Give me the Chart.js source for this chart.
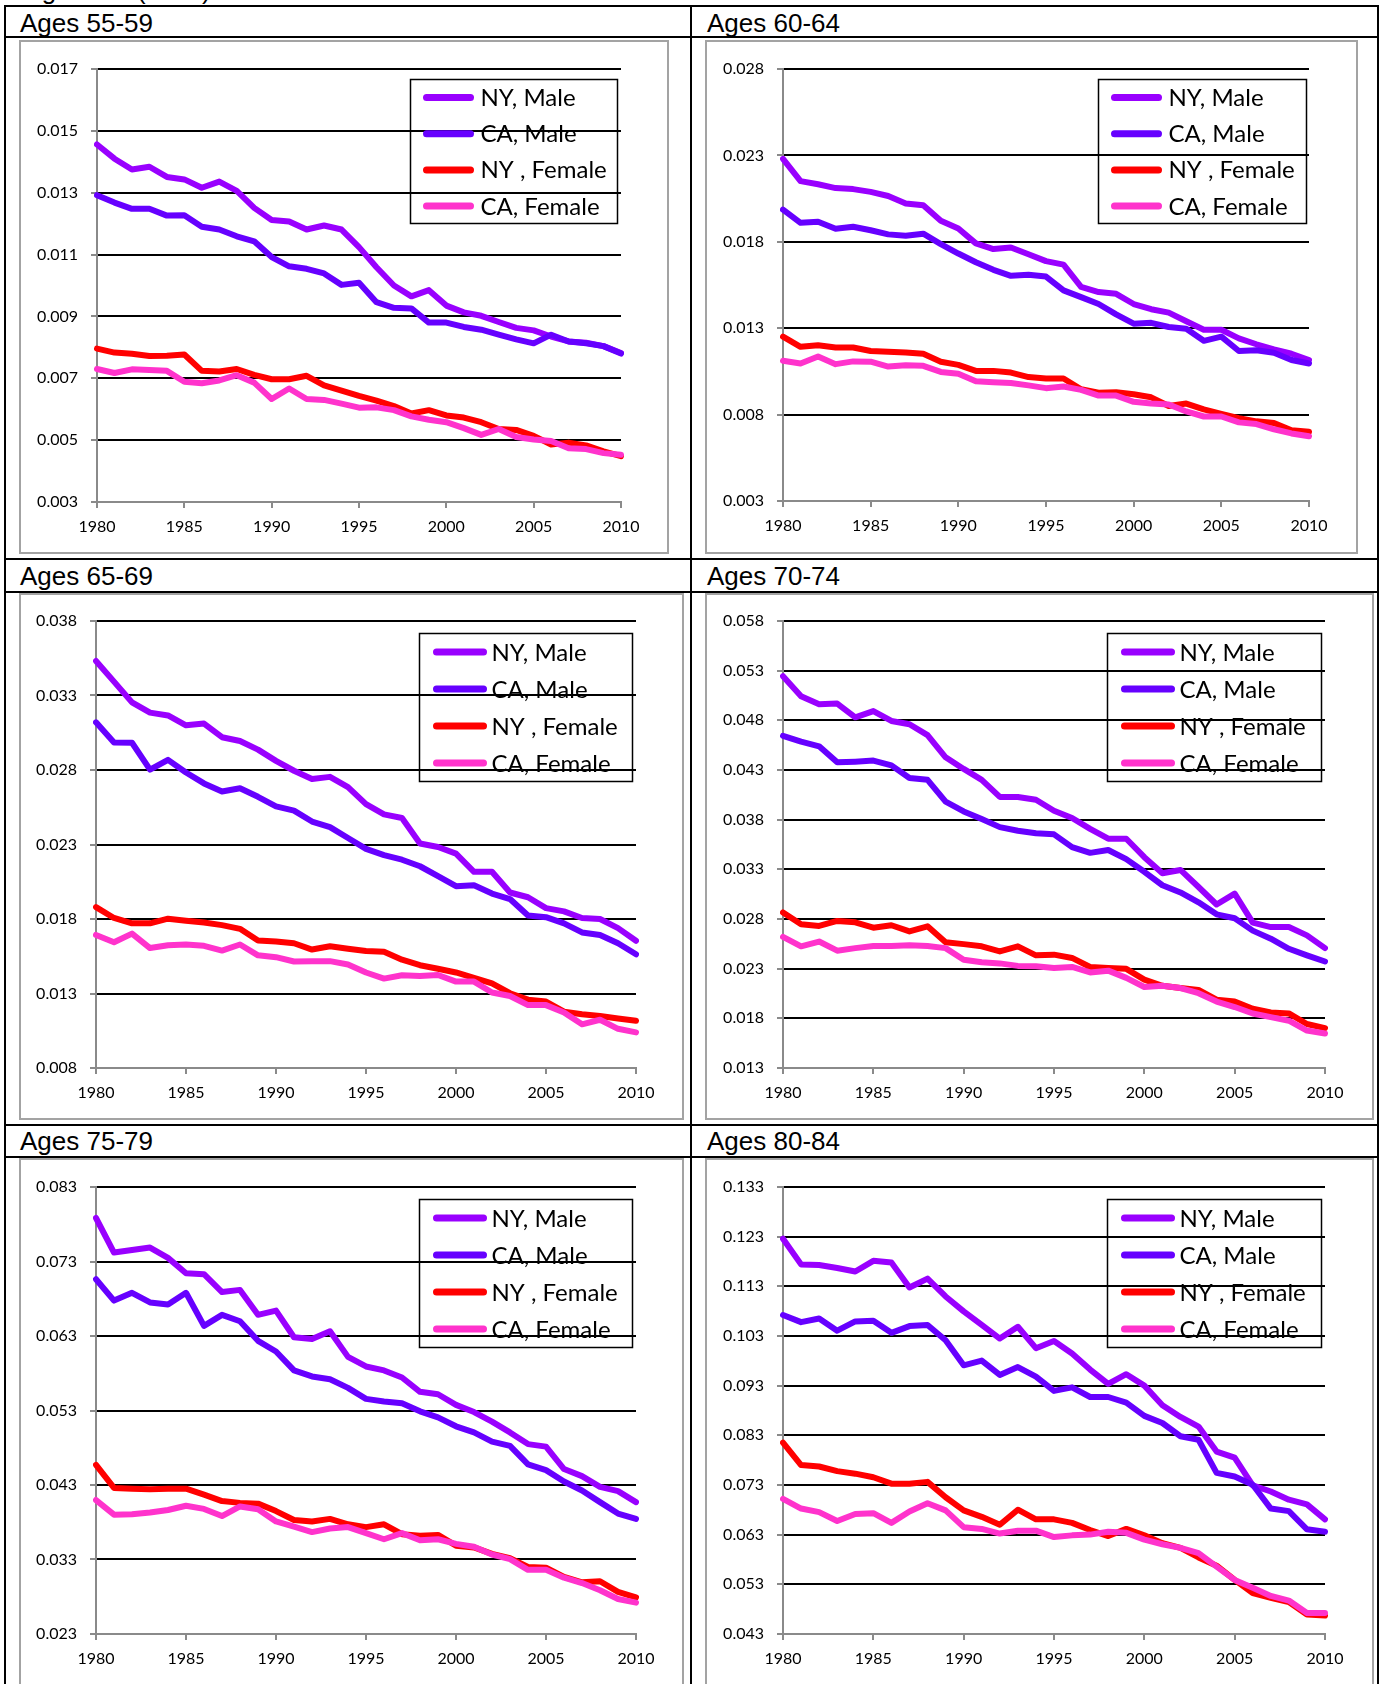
<!DOCTYPE html>
<html>
<head>
<meta charset="utf-8">
<title>Mortality rates by age group, NY and CA, 1980-2010</title>
<script src="https://cdn.jsdelivr.net/npm/chart.js@4.4.0/dist/chart.umd.min.js"></script>
<style>
  html, body { margin: 0; padding: 0; background: #fff; width: 1381px; height: 1684px; overflow: hidden; }
  .rule { position: absolute; background: #000; }
  .title { position: absolute; font-family: "Liberation Sans", Arial, sans-serif; font-size: 26px; line-height: 26px; color: #000; white-space: nowrap; }
  .frame { position: absolute; box-sizing: border-box; border: 2px solid #a3a3a3; pointer-events: none; }
  canvas { position: absolute; }
</style>
</head>
<body>
<script>
// ---- data -------------------------------------------------------------
const YEARS = [1980,1981,1982,1983,1984,1985,1986,1987,1988,1989,1990,1991,1992,1993,1994,1995,
               1996,1997,1998,1999,2000,2001,2002,2003,2004,2005,2006,2007,2008,2009,2010];
const X_TICK_YEARS = [1980,1985,1990,1995,2000,2005,2010];
const SERIES_NAMES = ['NY, Male', 'CA, Male', 'NY , Female', 'CA, Female'];
const PAGE_HEADING = 'Figure 10 (cont.)';

// Ages 55-59
const Y_TICKS_55_59 = [0.003,0.005,0.007,0.009,0.011,0.013,0.015,0.017];
const NY_MALE_55_59 = [0.01456,0.01410,0.01375,0.01384,0.01351,0.01343,0.01316,0.01336,0.01306,0.01251,0.01212,0.01207,0.01181,0.01194,0.01181,0.01124,0.01059,0.01000,0.00965,0.00985,0.00935,0.00913,0.00902,0.00882,0.00863,0.00855,0.00835,0.00819,0.00815,0.00804,0.00782];
const CA_MALE_55_59 = [0.01292,0.01268,0.01248,0.01248,0.01226,0.01227,0.01190,0.01181,0.01159,0.01143,0.01092,0.01062,0.01054,0.01039,0.01002,0.01009,0.00946,0.00928,0.00926,0.00880,0.00880,0.00866,0.00857,0.00841,0.00826,0.00813,0.00841,0.00819,0.00813,0.00804,0.00780];
const NY_FEMALE_55_59 = [0.00796,0.00783,0.00779,0.00772,0.00773,0.00777,0.00724,0.00722,0.00730,0.00711,0.00697,0.00697,0.00708,0.00677,0.00660,0.00643,0.00628,0.00610,0.00586,0.00597,0.00580,0.00573,0.00558,0.00536,0.00533,0.00514,0.00486,0.00492,0.00483,0.00464,0.00448];
const CA_FEMALE_55_59 = [0.00730,0.00717,0.00729,0.00727,0.00724,0.00689,0.00684,0.00693,0.00710,0.00686,0.00633,0.00667,0.00633,0.00630,0.00618,0.00605,0.00606,0.00597,0.00577,0.00566,0.00558,0.00539,0.00517,0.00536,0.00510,0.00502,0.00497,0.00474,0.00471,0.00458,0.00453];

// Ages 60-64
const Y_TICKS_60_64 = [0.003,0.008,0.013,0.018,0.023,0.028];
const NY_MALE_60_64 = [0.02280,0.02151,0.02133,0.02111,0.02105,0.02089,0.02065,0.02022,0.02012,0.01922,0.01877,0.01791,0.01758,0.01767,0.01728,0.01688,0.01668,0.01539,0.01509,0.01499,0.01440,0.01410,0.01390,0.01340,0.01291,0.01291,0.01241,0.01207,0.01178,0.01152,0.01116];
const CA_MALE_60_64 = [0.01986,0.01910,0.01916,0.01875,0.01887,0.01867,0.01843,0.01835,0.01847,0.01787,0.01732,0.01682,0.01638,0.01603,0.01609,0.01599,0.01519,0.01480,0.01440,0.01380,0.01326,0.01331,0.01307,0.01297,0.01227,0.01251,0.01168,0.01172,0.01158,0.01116,0.01096];
const NY_FEMALE_60_64 = [0.01251,0.01192,0.01201,0.01188,0.01188,0.01168,0.01164,0.01160,0.01152,0.01106,0.01088,0.01053,0.01053,0.01043,0.01017,0.01009,0.01009,0.00947,0.00927,0.00929,0.00918,0.00900,0.00850,0.00864,0.00830,0.00804,0.00779,0.00761,0.00751,0.00709,0.00701];
const CA_FEMALE_60_64 = [0.01112,0.01096,0.01136,0.01092,0.01108,0.01106,0.01078,0.01086,0.01082,0.01047,0.01037,0.00993,0.00987,0.00983,0.00969,0.00953,0.00963,0.00943,0.00910,0.00910,0.00874,0.00864,0.00858,0.00818,0.00789,0.00789,0.00755,0.00745,0.00715,0.00691,0.00675];

// Ages 65-69
const Y_TICKS_65_69 = [0.008,0.013,0.018,0.023,0.028,0.033,0.038];
const NY_MALE_65_69 = [0.03532,0.03393,0.03254,0.03185,0.03166,0.03100,0.03112,0.03020,0.02995,0.02937,0.02861,0.02795,0.02739,0.02754,0.02685,0.02571,0.02502,0.02478,0.02307,0.02283,0.02239,0.02117,0.02117,0.01978,0.01946,0.01873,0.01851,0.01807,0.01800,0.01739,0.01654];
const CA_MALE_65_69 = [0.03120,0.02985,0.02983,0.02802,0.02868,0.02783,0.02710,0.02656,0.02678,0.02620,0.02556,0.02527,0.02454,0.02417,0.02344,0.02271,0.02229,0.02198,0.02154,0.02088,0.02020,0.02027,0.01971,0.01934,0.01824,0.01812,0.01771,0.01710,0.01693,0.01637,0.01563];
const NY_FEMALE_65_69 = [0.01880,0.01807,0.01771,0.01771,0.01802,0.01788,0.01776,0.01759,0.01734,0.01656,0.01649,0.01637,0.01595,0.01617,0.01600,0.01585,0.01580,0.01527,0.01490,0.01466,0.01441,0.01405,0.01368,0.01302,0.01259,0.01246,0.01178,0.01161,0.01149,0.01132,0.01117];
const CA_FEMALE_65_69 = [0.01693,0.01644,0.01702,0.01605,0.01624,0.01629,0.01620,0.01588,0.01629,0.01556,0.01544,0.01515,0.01517,0.01517,0.01495,0.01441,0.01400,0.01422,0.01417,0.01424,0.01380,0.01380,0.01307,0.01283,0.01222,0.01222,0.01173,0.01093,0.01124,0.01063,0.01039];

// Ages 70-74
const Y_TICKS_70_74 = [0.013,0.018,0.023,0.028,0.033,0.038,0.043,0.048,0.053,0.058];
const NY_MALE_70_74 = [0.05244,0.05043,0.04962,0.04969,0.04830,0.04893,0.04794,0.04761,0.04651,0.04428,0.04311,0.04201,0.04029,0.04029,0.04000,0.03890,0.03817,0.03707,0.03608,0.03608,0.03422,0.03261,0.03294,0.03122,0.02946,0.03056,0.02763,0.02719,0.02719,0.02635,0.02507];
const CA_MALE_70_74 = [0.04644,0.04585,0.04538,0.04377,0.04384,0.04395,0.04347,0.04219,0.04201,0.03981,0.03883,0.03806,0.03725,0.03689,0.03663,0.03652,0.03524,0.03466,0.03495,0.03403,0.03275,0.03140,0.03067,0.02968,0.02847,0.02807,0.02683,0.02602,0.02500,0.02434,0.02372];
const NY_FEMALE_70_74 = [0.02866,0.02748,0.02730,0.02781,0.02767,0.02712,0.02737,0.02675,0.02726,0.02566,0.02547,0.02525,0.02474,0.02525,0.02434,0.02441,0.02408,0.02317,0.02306,0.02298,0.02189,0.02127,0.02105,0.02086,0.01988,0.01969,0.01896,0.01859,0.01849,0.01743,0.01702];
const CA_FEMALE_70_74 = [0.02620,0.02525,0.02573,0.02481,0.02507,0.02529,0.02529,0.02536,0.02529,0.02507,0.02390,0.02364,0.02353,0.02328,0.02324,0.02306,0.02317,0.02262,0.02280,0.02207,0.02115,0.02127,0.02105,0.02053,0.01969,0.01914,0.01849,0.01812,0.01776,0.01677,0.01647];

// Ages 75-79
const Y_TICKS_75_79 = [0.023,0.033,0.043,0.053,0.063,0.073,0.083];
const NY_MALE_75_79 = [0.07884,0.07420,0.07454,0.07487,0.07349,0.07143,0.07129,0.06890,0.06919,0.06584,0.06641,0.06283,0.06259,0.06364,0.06020,0.05891,0.05838,0.05743,0.05551,0.05518,0.05375,0.05279,0.05150,0.05006,0.04849,0.04815,0.04514,0.04419,0.04275,0.04218,0.04070];
const CA_MALE_75_79 = [0.07062,0.06775,0.06880,0.06751,0.06723,0.06880,0.06436,0.06584,0.06498,0.06235,0.06092,0.05838,0.05757,0.05719,0.05604,0.05456,0.05422,0.05398,0.05289,0.05207,0.05088,0.05006,0.04882,0.04825,0.04576,0.04500,0.04347,0.04227,0.04070,0.03917,0.03845];
const NY_FEMALE_75_79 = [0.04571,0.04261,0.04251,0.04242,0.04251,0.04251,0.04170,0.04084,0.04060,0.04050,0.03950,0.03831,0.03811,0.03845,0.03773,0.03735,0.03773,0.03639,0.03620,0.03630,0.03486,0.03462,0.03376,0.03319,0.03199,0.03190,0.03066,0.02994,0.03008,0.02865,0.02793];
const CA_FEMALE_75_79 = [0.04098,0.03902,0.03907,0.03931,0.03964,0.04022,0.03979,0.03883,0.04012,0.03974,0.03811,0.03740,0.03668,0.03716,0.03735,0.03654,0.03572,0.03654,0.03558,0.03572,0.03510,0.03472,0.03367,0.03305,0.03161,0.03161,0.03056,0.02984,0.02888,0.02769,0.02721];

// Ages 80-84
const Y_TICKS_80_84 = [0.043,0.053,0.063,0.073,0.083,0.093,0.103,0.113,0.123,0.133];
const NY_MALE_80_84 = [0.12259,0.11742,0.11728,0.11670,0.11599,0.11814,0.11778,0.11276,0.11455,0.11096,0.10795,0.10522,0.10249,0.10486,0.10055,0.10199,0.09948,0.09625,0.09337,0.09531,0.09301,0.08907,0.08670,0.08476,0.07973,0.07851,0.07291,0.07169,0.07004,0.06911,0.06609];
const CA_MALE_80_84 = [0.10723,0.10579,0.10651,0.10407,0.10594,0.10608,0.10364,0.10500,0.10522,0.10213,0.09710,0.09804,0.09517,0.09675,0.09481,0.09194,0.09266,0.09072,0.09072,0.08957,0.08691,0.08548,0.08282,0.08210,0.07543,0.07471,0.07306,0.06825,0.06774,0.06408,0.06358];
const NY_FEMALE_80_84 = [0.08153,0.07701,0.07672,0.07579,0.07528,0.07457,0.07327,0.07327,0.07363,0.07054,0.06789,0.06659,0.06501,0.06803,0.06609,0.06609,0.06538,0.06394,0.06272,0.06416,0.06286,0.06128,0.06035,0.05841,0.05676,0.05389,0.05123,0.05030,0.04944,0.04693,0.04671];
const CA_FEMALE_80_84 = [0.07019,0.06826,0.06754,0.06574,0.06717,0.06732,0.06538,0.06767,0.06933,0.06789,0.06451,0.06416,0.06322,0.06380,0.06380,0.06251,0.06286,0.06301,0.06358,0.06337,0.06200,0.06107,0.06035,0.05927,0.05655,0.05389,0.05231,0.05066,0.04973,0.04722,0.04722];

// ---- styling ----------------------------------------------------------
const SERIES_COLORS = ['#9900ff', '#6600ff', '#ff0000', '#ff33cc'];
const AXIS_GREY = '#8a8a8a';
const TICK_FONT = { family: 'Lato', size: 16 };
const LEGEND_FONT = '24px Lato';

// Page geometry of every panel: title position, outer frame, plot area, legend box.
const PANELS = [
  { title: 'Ages 55-59', titleX: 20,  titleY: 10,   series: [NY_MALE_55_59, CA_MALE_55_59, NY_FEMALE_55_59, CA_FEMALE_55_59], yTicks: Y_TICKS_55_59,
    frame: [19, 40, 669, 554],    plot: [97, 69, 621, 502],    legend: { right: 4, top: 10, w: 207, h: 144, first: 18, step: 36.2, sx0: 16, sx1: 60, tx: 70 } },
  { title: 'Ages 60-64', titleX: 707, titleY: 10,   series: [NY_MALE_60_64, CA_MALE_60_64, NY_FEMALE_60_64, CA_FEMALE_60_64], yTicks: Y_TICKS_60_64,
    frame: [705, 40, 1358, 554],  plot: [783, 69, 1309, 501],  legend: { right: 3, top: 10, w: 208, h: 144, first: 18, step: 36.2, sx0: 16, sx1: 60, tx: 70 } },
  { title: 'Ages 65-69', titleX: 20,  titleY: 563,  series: [NY_MALE_65_69, CA_MALE_65_69, NY_FEMALE_65_69, CA_FEMALE_65_69], yTicks: Y_TICKS_65_69,
    frame: [19, 593, 684, 1120],  plot: [96, 621, 636, 1068],  legend: { right: 4, top: 12, w: 213, h: 148, first: 18.6, step: 37, sx0: 17, sx1: 64, tx: 72 } },
  { title: 'Ages 70-74', titleX: 707, titleY: 563,  series: [NY_MALE_70_74, CA_MALE_70_74, NY_FEMALE_70_74, CA_FEMALE_70_74], yTicks: Y_TICKS_70_74,
    frame: [705, 593, 1374, 1120], plot: [783, 621, 1325, 1068], legend: { right: 4, top: 12, w: 214, h: 148, first: 18.6, step: 37, sx0: 17, sx1: 64, tx: 72 } },
  { title: 'Ages 75-79', titleX: 20,  titleY: 1128, series: [NY_MALE_75_79, CA_MALE_75_79, NY_FEMALE_75_79, CA_FEMALE_75_79], yTicks: Y_TICKS_75_79,
    frame: [19, 1158, 684, 1720], plot: [96, 1187, 636, 1634], legend: { right: 4, top: 12, w: 213, h: 148, first: 18.6, step: 37, sx0: 17, sx1: 64, tx: 72 } },
  { title: 'Ages 80-84', titleX: 707, titleY: 1128, series: [NY_MALE_80_84, CA_MALE_80_84, NY_FEMALE_80_84, CA_FEMALE_80_84], yTicks: Y_TICKS_80_84,
    frame: [705, 1158, 1374, 1720], plot: [783, 1187, 1325, 1634], legend: { right: 4, top: 12, w: 214, h: 148, first: 18.6, step: 37, sx0: 17, sx1: 64, tx: 72 } }
];

// Table rules: [left, top, width, height]
const RULES = [
  [4, 5, 1375, 2], [4, 36, 1375, 2], [4, 558, 1375, 2], [4, 591, 1375, 2], [4, 1124, 1375, 2], [4, 1156, 1375, 2],
  [4, 5, 2, 1700], [690, 5, 2, 1700], [1377, 5, 2, 1700]
];

function addDiv(cls, css, text) {
  const d = document.createElement('div');
  d.className = cls;
  Object.assign(d.style, css);
  if (text) d.textContent = text;
  document.body.appendChild(d);
  return d;
}

// Legend drawn inside the plot area, in the top-right corner.
const insetLegend = {
  id: 'insetLegend',
  afterDraw(chart, args, o) {
    const { ctx, chartArea } = chart;
    const x0 = Math.round(chartArea.right - o.right - o.w) + 0.5;
    const y0 = Math.round(chartArea.top + o.top) + 0.5;
    ctx.save();
    ctx.strokeStyle = '#000';
    ctx.lineWidth = 1.5;
    ctx.strokeRect(x0, y0, o.w, o.h);
    ctx.font = LEGEND_FONT;
    ctx.textBaseline = 'alphabetic';
    ctx.textAlign = 'left';
    chart.data.datasets.forEach((ds, i) => {
      const cy = y0 + o.first + i * o.step;
      ctx.strokeStyle = ds.borderColor;
      ctx.lineWidth = 7;
      ctx.lineCap = 'round';
      ctx.beginPath();
      ctx.moveTo(x0 + o.sx0, cy);
      ctx.lineTo(x0 + o.sx1, cy);
      ctx.stroke();
      ctx.fillStyle = '#000';
      ctx.fillText(ds.label, x0 + o.tx, cy + 8.5);
    });
    ctx.restore();
  }
};

function buildPage() {
  addDiv('title', { left: '20px', top: '-23px' }, PAGE_HEADING);
  RULES.forEach(r => addDiv('rule', { left: r[0] + 'px', top: r[1] + 'px', width: r[2] + 'px', height: r[3] + 'px' }));

  PANELS.forEach(p => {
    addDiv('title', { left: p.titleX + 'px', top: p.titleY + 'px' }, p.title);
    const [fl, ft, fr, fb] = p.frame;
    const [pl, pt, pr, pb] = p.plot;
    const w = fr - fl, h = fb - ft;

    const canvas = document.createElement('canvas');
    canvas.width = w; canvas.height = h;
    Object.assign(canvas.style, { left: fl + 'px', top: ft + 'px', width: w + 'px', height: h + 'px' });
    document.body.appendChild(canvas);
    addDiv('frame', { left: fl + 'px', top: ft + 'px', width: w + 'px', height: h + 'px' });

    const ticks = p.yTicks;
    new Chart(canvas, {
      type: 'line',
      data: {
        labels: YEARS,
        datasets: p.series.map((values, i) => ({
          label: SERIES_NAMES[i],
          data: values,
          borderColor: SERIES_COLORS[i],
          backgroundColor: SERIES_COLORS[i],
          borderWidth: 6,
          borderJoinStyle: 'round',
          borderCapStyle: 'round',
          pointRadius: 0,
          tension: 0,
          fill: false,
          order: 3 - i
        }))
      },
      options: {
        responsive: false,
        animation: false,
        devicePixelRatio: 1,
        layout: { padding: { left: 0, top: pt - ft, right: fr - pr, bottom: 0 } },
        plugins: {
          legend: { display: false },
          tooltip: { enabled: false },
          insetLegend: p.legend
        },
        scales: {
          x: {
            type: 'category',
            offset: false,
            border: { display: true, color: AXIS_GREY, width: 2 },
            grid: { display: true, drawOnChartArea: false, drawTicks: true, tickLength: 6, tickWidth: 2,
                    tickColor: AXIS_GREY, color: AXIS_GREY, lineWidth: 2 },
            ticks: {
              autoSkip: false, maxRotation: 0, minRotation: 0, padding: 9, color: '#000', font: TICK_FONT,
              callback(value) {
                const yr = this.getLabelForValue(value);
                return X_TICK_YEARS.includes(Number(yr)) ? String(yr) : null;
              }
            },
            afterFit(scale) { scale.height = fb - pb; }
          },
          y: {
            min: ticks[0],
            max: ticks[ticks.length - 1],
            border: { display: true, color: AXIS_GREY, width: 2 },
            grid: {
              color: c => (c.index === 0 ? 'rgba(0,0,0,0)' : '#000'),
              lineWidth: 2, drawTicks: true, tickLength: 6, tickWidth: 2, tickColor: AXIS_GREY
            },
            ticks: { padding: 13, color: '#000', font: TICK_FONT, callback: v => Number(v).toFixed(3) },
            afterBuildTicks(scale) { scale.ticks = ticks.map(v => ({ value: v })); },
            afterFit(scale) { scale.width = pl - fl; }
          }
        }
      },
      plugins: [insetLegend]
    });
  });
}

Promise.all([
  document.fonts.load('16px Lato'),
  document.fonts.load('24px Lato'),
  document.fonts.load('26px "Liberation Sans"')
]).catch(() => {}).then(buildPage);
</script>
</body>
</html>
